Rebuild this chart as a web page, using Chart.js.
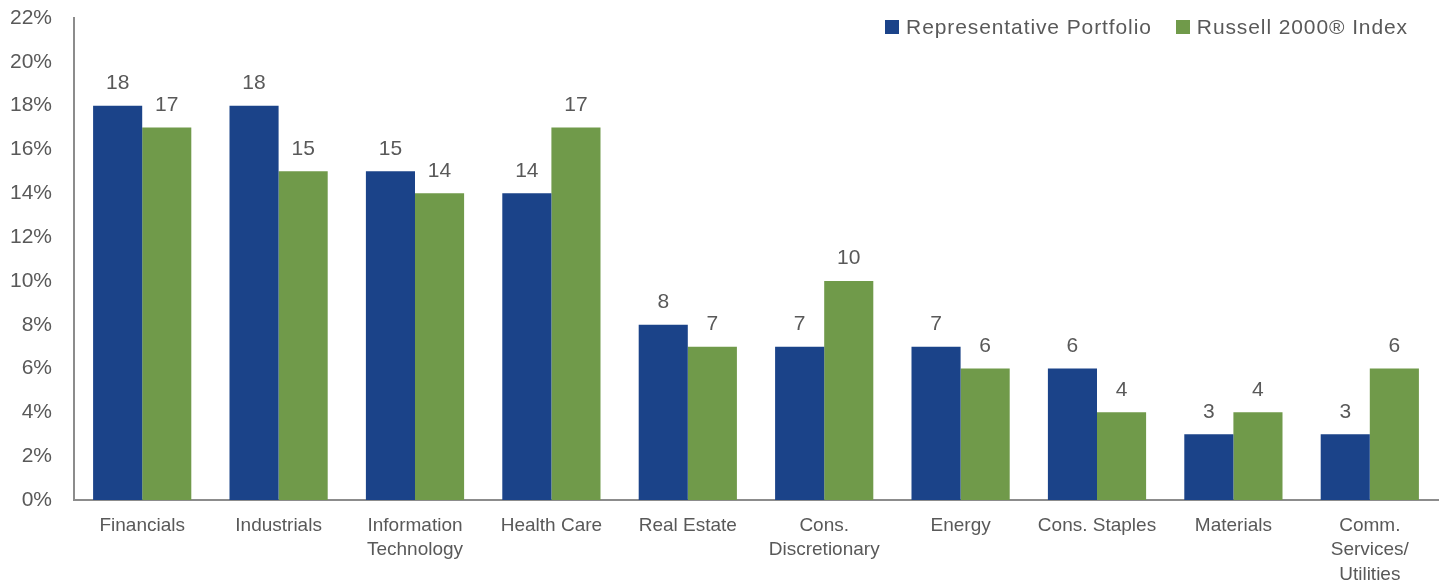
<!DOCTYPE html>
<html>
<head>
<meta charset="utf-8">
<script src="https://cdn.jsdelivr.net/npm/chart.js@4.4.1/dist/chart.umd.min.js"></script>
<style>
  html, body { margin: 0; padding: 0; background: #fff; }
  .wrap { position: relative; width: 1440px; height: 584px; }
  .legend {
    position: absolute; top: 15px; right: 32px;
    font-family: "Liberation Sans", Arial, sans-serif; font-size: 21px; color: #595959;
    display: flex; gap: 24px; letter-spacing: 0.9px;
  }
  .legend span { display: inline-flex; align-items: center; }
  .legend i { display: inline-block; width: 14px; height: 14px; margin-right: 7px; }
</style>
</head>
<body>
<div class="wrap">
  <canvas id="c" width="1440" height="584"></canvas>
  <div class="legend" id="legend"></div>
</div>
<script>
  const categories = [
    "Financials", "Industrials", ["Information", "Technology"], "Health Care", "Real Estate",
    ["Cons.", "Discretionary"], "Energy", "Cons. Staples", "Materials", ["Comm.", "Services/", "Utilities"]
  ];
  const portfolio = [18, 18, 15, 14, 8, 7, 7, 6, 3, 3];
  const russell = [17, 15, 14, 17, 7, 10, 6, 4, 4, 6];
  const seriesNames = ["Representative Portfolio", "Russell 2000\u00AE Index"];
  const colors = ["#1B4389", "#709A4A"];

  const font = "'Liberation Sans', Arial, sans-serif";
  const textColor = "#595959";

  const barLabels = {
    id: "barLabels",
    afterDatasetsDraw(chart) {
      const ctx = chart.ctx;
      ctx.save();
      ctx.font = "21px " + font;
      ctx.fillStyle = textColor;
      ctx.textAlign = "center";
      ctx.textBaseline = "bottom";
      chart.data.datasets.forEach((ds, i) => {
        chart.getDatasetMeta(i).data.forEach((bar, j) => {
          ctx.fillText(String(ds.data[j]), bar.x, bar.y - 12);
        });
      });
      ctx.restore();
    }
  };

  new Chart(document.getElementById("c"), {
    type: "bar",
    data: {
      labels: categories,
      datasets: [
        { label: seriesNames[0], data: portfolio, backgroundColor: colors[0], categoryPercentage: 0.72, barPercentage: 1 },
        { label: seriesNames[1], data: russell, backgroundColor: colors[1], categoryPercentage: 0.72, barPercentage: 1 }
      ]
    },
    options: {
      responsive: false,
      animation: false,
      layout: { padding: { top: 18, right: 2, left: 0, bottom: 0 } },
      plugins: { legend: { display: false }, tooltip: { enabled: false } },
      scales: {
        x: {
          grid: { display: false, drawTicks: false },
          border: { display: true, color: "#8c8c8c", width: 2 },
          ticks: { color: textColor, font: { family: font, size: 19, lineHeight: 1.3 }, padding: 13, maxRotation: 0, autoSkip: false },
          afterFit(s) { s.height = 84; s.paddingTop = 0; }
        },
        y: {
          min: 0, max: 22,
          grid: { display: false, drawTicks: false },
          border: { display: true, color: "#8c8c8c", width: 2 },
          ticks: { stepSize: 2, color: textColor, font: { family: font, size: 21 }, padding: 22, callback: v => v + "%" },
          afterFit(s) { s.width = 74; s.paddingTop = 0; }
        }
      }
    },
    plugins: [barLabels]
  });

  const legend = document.getElementById("legend");
  seriesNames.forEach((name, i) => {
    const s = document.createElement("span");
    const sw = document.createElement("i");
    sw.style.background = colors[i];
    s.appendChild(sw);
    s.appendChild(document.createTextNode(name));
    legend.appendChild(s);
  });
</script>
</body>
</html>
